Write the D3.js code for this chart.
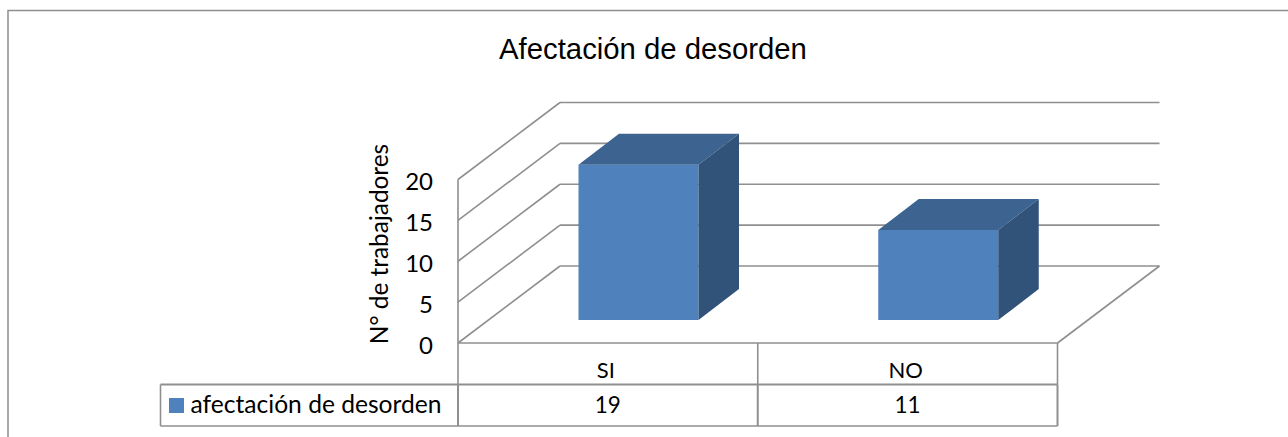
<!DOCTYPE html>
<html>
<head>
<meta charset="utf-8">
<script src="https://cdn.jsdelivr.net/npm/d3@7"></script>
<style>
html,body{margin:0;padding:0;background:#fff;overflow:hidden}
svg{display:block}
text{fill:#000}
</style>
</head>
<body>
<svg id="c" width="1288" height="437"></svg>
<script>
const categories = ["SI", "NO"];
const seriesName = "afectación de desorden";
const values = [19, 11];
const yTicks = [0, 5, 10, 15, 20];
const titleText = "Afectación de desorden";
const yTitle = "N° de trabajadores";

const svg = d3.select("#c");
const grey = "#8f8f8f";
const bodyFont = "Lato, Carlito, 'Open Sans', sans-serif";

// frame: the top edge and the left edge run off the picture
svg.append("path")
  .attr("d", "M8,437V10.5H1288")
  .attr("fill", "none").attr("stroke", grey).attr("stroke-width", 1.5);

svg.append("text").text(titleText)
  .attr("x", 653).attr("y", 58.5)
  .attr("text-anchor", "middle")
  .attr("font-family", "'Liberation Sans', Arial, sans-serif")
  .attr("font-size", 29.3);

// 3-D frame
const depthX = 102, depthY = 77;
const y = d3.scaleLinear().domain([0, 20]).range([343, 179.5]);
const x = d3.scaleBand().domain(categories).range([458, 1057.5]);
const backX0 = x.range()[0] + depthX, backX1 = x.range()[1] + depthX;

const line = (g, a, b, c, d, w = 1.6) => g.append("line")
  .attr("x1", a).attr("y1", b).attr("x2", c).attr("y2", d)
  .attr("stroke", grey).attr("stroke-width", w);

const grid = svg.append("g");
yTicks.forEach(t => {
  line(grid, x.range()[0], y(t), backX0, y(t) - depthY);
  line(grid, backX0, y(t) - depthY, backX1, y(t) - depthY);
});
line(grid, x.range()[0], y(0), x.range()[1], y(0));
line(grid, x.range()[1], y(0), backX1, y(0) - depthY);

// left wall and table
const tableTop = y(0), rowMid = 384.5, rowBot = 426, legendX = 160.5;
const table = svg.append("g");
line(table, x.range()[0], y(20), x.range()[0], rowMid);
line(table, legendX, rowMid, x.range()[1], rowMid, 2);
line(table, legendX, rowBot, x.range()[1], rowBot);
line(table, legendX, rowMid, legendX, rowBot);
line(table, x.range()[0], rowMid, x.range()[0], rowBot, 2);
categories.forEach(c => {
  const xr = x(c) + x.bandwidth();
  line(table, xr, tableTop, xr, rowMid);
  line(table, xr, rowMid, xr, rowBot, 2);
});

// bars
const barW = 120, barOffset = 120.5, baseLift = 23, dx = 40.5, dy = 31;
const yBar = d3.scaleLinear().domain([0, 20]).range([y(0) - baseLift, y(20) - baseLift]);
const bars = svg.append("g").selectAll("g")
  .data(categories.map((c, i) => ({ c, v: values[i] }))).join("g");
const poly = p => p.map(q => q.join(",")).join(" ");
bars.append("polygon").attr("fill", "#4f81bd").attr("points", d => {
  const l = x(d.c) + barOffset, r = l + barW;
  return poly([[l, yBar(0)], [r, yBar(0)], [r, yBar(d.v)], [l, yBar(d.v)]]);
});
bars.append("polygon").attr("fill", "#3d6390").attr("points", d => {
  const l = x(d.c) + barOffset, r = l + barW, t = yBar(d.v);
  return poly([[l, t], [r, t], [r + dx, t - dy], [l + dx, t - dy]]);
});
bars.append("polygon").attr("fill", "#325379").attr("points", d => {
  const r = x(d.c) + barOffset + barW, t = yBar(d.v), b = yBar(0);
  return poly([[r, b], [r, t], [r + dx, t - dy], [r + dx, b - dy]]);
});

// axis labels
svg.append("g").selectAll("text").data(yTicks).join("text")
  .text(d => d)
  .attr("x", 433).attr("y", d => y(d) + 10.5)
  .attr("text-anchor", "end")
  .attr("font-family", bodyFont).attr("font-size", 24);

svg.append("text").text(yTitle)
  .attr("transform", "translate(387.5,244) rotate(-90)")
  .attr("text-anchor", "middle")
  .attr("font-family", bodyFont).attr("font-size", 24.4);

// table text
svg.append("g").selectAll("text").data(categories).join("text")
  .text(d => d)
  .attr("x", d => x(d) + x.bandwidth() / 2 - 2).attr("y", 378)
  .attr("text-anchor", "middle")
  .attr("font-family", bodyFont).attr("font-size", 22);
svg.append("g").selectAll("text").data(values).join("text")
  .text(d => d)
  .attr("x", (d, i) => x(categories[i]) + x.bandwidth() / 2).attr("y", 413)
  .attr("text-anchor", "middle")
  .attr("font-family", bodyFont).attr("font-size", 22.5);

svg.append("rect").attr("x", 169).attr("y", 398).attr("width", 15).attr("height", 15).attr("fill", "#4f81bd");
svg.append("text").text(seriesName)
  .attr("x", 190.5).attr("y", 413)
  .attr("font-family", bodyFont).attr("font-size", 24.6);
</script>
</body>
</html>
